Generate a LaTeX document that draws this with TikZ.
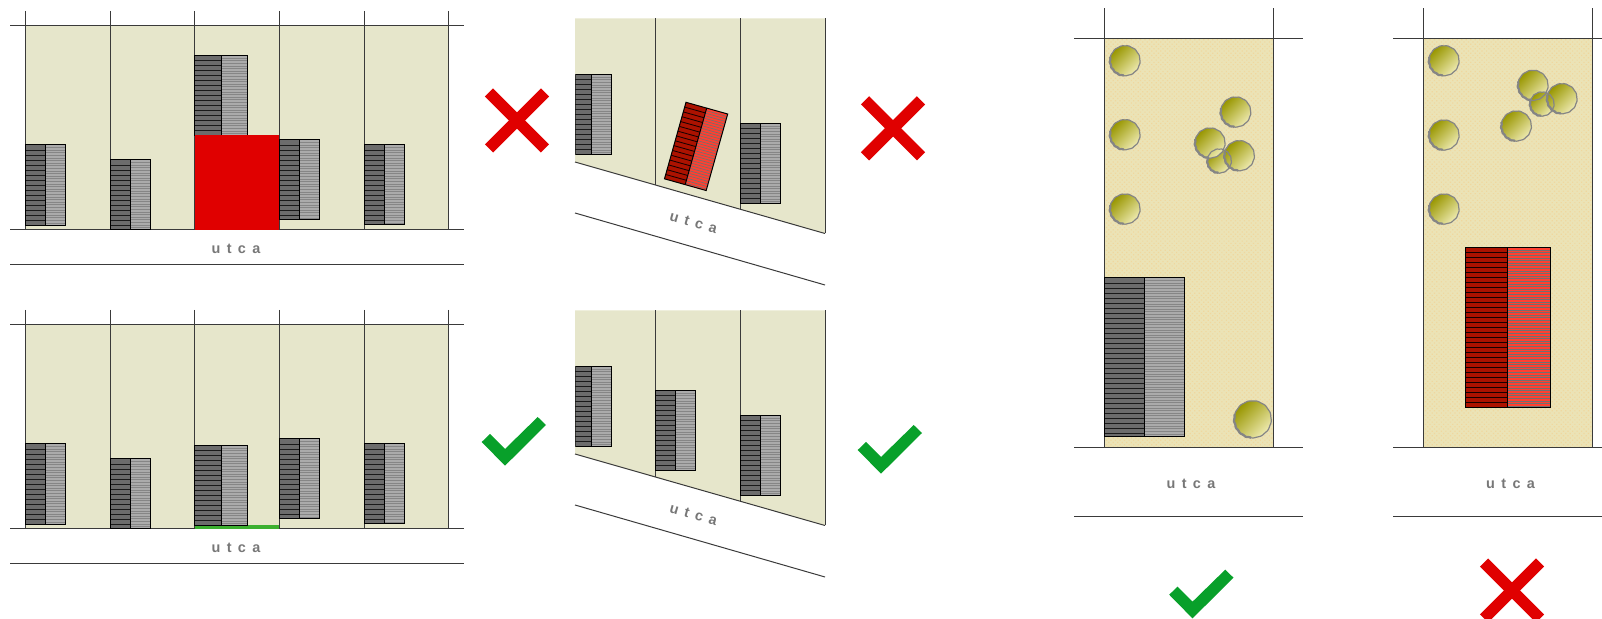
\documentclass[tikz,border=0pt]{standalone}
\usepackage{xcolor}
\usepackage{fontspec}
\usetikzlibrary{patterns.meta}
\newfontfamily\streetfont[WordSpace=1.6]{Liberation Sans}
\definecolor{LotFill}{HTML}{E6E6CB}
\definecolor{SandFill}{HTML}{EBE3B6}
\definecolor{SandDot}{HTML}{F0D79E}
\definecolor{PlotLine}{HTML}{3A3A3A}
\definecolor{StreetText}{HTML}{777777}
\definecolor{BadRed}{HTML}{E00000}
\definecolor{GoodGreen}{HTML}{08A02A}
\definecolor{StripGreen}{HTML}{3CB030}
\definecolor{GreyDark}{HTML}{6C6C6C}
\definecolor{GreyDarkLine}{HTML}{1A1A1A}
\definecolor{GreyLight}{HTML}{ABABAB}
\definecolor{GreyLightLine}{HTML}{868686}
\definecolor{RedDark}{HTML}{AC1200}
\definecolor{RedDarkLine}{HTML}{180000}
\definecolor{RedLight}{HTML}{FF4030}
\definecolor{RedLightLine}{HTML}{707070}
\definecolor{TreeDark}{HTML}{989600}
\definecolor{TreePale}{HTML}{EEEAB0}
\definecolor{TreeRim}{HTML}{858585}
% x y, dark width, light width, height, angle, colour set
\newcommand{\housebar}[7]{
    \begin{scope}[shift={(#1,#2)}, rotate=#6]
        \fill[#7Dark] (0,0) rectangle (#3,#5);
        \fill[#7Light] (#3,0) rectangle (#3+#4,#5);
        \pgfmathsetmacro{\stripend}{#5-1}
        \foreach \yy in {5,10,...,\stripend}
            \draw[#7DarkLine, line width=0.42pt] (0,\yy) -- (#3,\yy);
        \foreach \yy in {2.6,5.2,...,\stripend}
            \draw[#7LightLine, line width=0.32pt] (#3,\yy) -- (#3+#4,\yy);
        \draw[housepen] (0,0) rectangle (#3+#4,#5);
        \draw[housepen] (#3,0) -- (#3,#5);
    \end{scope}
}
% x y radius
\newcommand{\treetop}[3]{
    \shade[top color=TreeDark, bottom color=TreePale, shading angle=45]
        (#1,#2) circle (#3);
}
\newcommand{\treerim}[3]{
    \draw[treepen, line width=0.6pt] plot[domain=0:360, samples=73, smooth]
        ({#1+(#3+0.2*sin(13*\x))*cos(\x)},{#2+(#3+0.2*sin(13*\x))*sin(\x)});
    \draw[treepen, line width=1.1pt] plot[domain=95:195, samples=25, smooth]
        ({#1+(#3+0.35*sin(17*\x))*cos(\x)},{#2+(#3+0.35*sin(17*\x))*sin(\x)});
}
\newcommand{\badmark}[2]{
    \draw[BadRed, line width=5.8pt] (#1-28,#2-28) -- (#1+28,#2+28);
    \draw[BadRed, line width=5.8pt] (#1-28,#2+28) -- (#1+28,#2-28);
}
\newcommand{\goodmark}[2]{
    \fill[GoodGreen] (#1-32.3,#2+1) -- (#1-24,#2-7) -- (#1-9,#2+8)
        -- (#1+23.7,#2-24) -- (#1+32,#2-16) -- (#1-9,#2+24.7) -- cycle;
}
% y shift, street node name
\newcommand{\lotrow}[2]{
    \begin{scope}[shift={(0,#1)}]
        \fill[LotFill] (25,26) rectangle (449,230);
        \draw[plotline] (10,26) -- (464,26);
        \draw[plotline] (10,230) -- (464,230);
        \draw[plotline] (10,265) -- (464,265);
        \foreach \xx in {25.3,110,194.7,279.3,364,448.7}
            \draw[plotline] (\xx,11) -- (\xx,230);
        \node[streettext] (#2) at (236,248.5) {u t c a};
        \housebar{25.3}{145}{20.3}{20}{80.5}{0}{Grey}
        \housebar{110}{160}{20.3}{20}{70}{0}{Grey}
        \housebar{279.3}{140}{20.3}{20}{80}{0}{Grey}
        \housebar{364}{145}{20.3}{20}{80}{0}{Grey}
    \end{scope}
}
% y shift, street node name
\newcommand{\slantrow}[2]{
    \begin{scope}[shift={(0,#1)}]
        \fill[LotFill] (575,18.5) -- (825,18.5) -- (825,233.5) -- (575,162) -- cycle;
        \draw[plotline] (575,162) -- (825,233.5);
        \draw[plotline] (575,213) -- (825,285);
        \draw[plotline] (655.5,18.5) -- (655.5,185);
        \draw[plotline] (740.5,18.5) -- (740.5,209);
        \draw[plotline] (825,18.5) -- (825,233.5);
        \node[streettext, rotate=-16] (#2) at (693.5,223) {u t c a};
        \begin{scope}
            \clip (575.4,0) rectangle (640,200);
            \housebar{575}{74.5}{16}{20}{80.5}{0}{Grey}
        \end{scope}
        \housebar{740.5}{123.5}{20}{20.3}{80}{0}{Grey}
    \end{scope}
}
% left x, right x, left end, right end of the lines
\newcommand{\deeplot}[4]{
    \fill[SandFill] (#1,38.5) rectangle (#2,447.5);
    \fill[pattern={Dots[radius=0.42pt,distance=1.6pt,angle=45]}, pattern color=SandDot]
        (#1,38.5) rectangle (#2,447.5);
    \draw[plotline] (#3,38.5) -- (#4,38.5);
    \draw[plotline] (#3,447.5) -- (#4,447.5);
    \draw[plotline] (#3,517) -- (#4,517);
    \draw[plotline] (#1,8.5) -- (#1,447.5);
    \draw[plotline] (#2,8.5) -- (#2,447.5);
}

\begin{document}
\begin{tikzpicture}[
    x=0.5pt, y=-0.5pt,
    plotline/.style={draw=PlotLine, line width=0.5pt},
    housepen/.style={draw=black, line width=0.5pt},
    treepen/.style={draw=TreeRim, line join=round},
    streettext/.style={text=StreetText, font=\streetfont\bfseries\fontsize{7.2}{8}\selectfont, inner sep=0pt}
]
    \useasboundingbox (0,0) rectangle (1602,619);

    % street front rows
    \lotrow{0}{streetA}
    \housebar{194.7}{55.5}{26.3}{26.5}{80}{0}{Grey}
    \fill[BadRed] (194.7,135) rectangle (279.3,230);
    \lotrow{299}{streetC}
    \fill[StripGreen] (194.7,525) rectangle (279.3,529);
    \housebar{194.7}{445.5}{26.3}{26.5}{80.5}{0}{Grey}
    \badmark{517}{120.5}
    \goodmark{514}{441}

    % slanted street rows
    \slantrow{0}{streetB}
    \housebar{686}{102.3}{21.5}{21.8}{79.5}{-15.7}{Red}
    \slantrow{292}{streetD}
    \housebar{655.5}{390.5}{20}{20.3}{80.5}{0}{Grey}
    \badmark{893}{128.3}
    \goodmark{890}{449}

    % deep plots
    \deeplot{1104}{1273}{1074}{1303}
    \node[streettext] (streetE) at (1191,483.5) {u t c a};
    \housebar{1104}{278}{40}{40.3}{159}{0}{Grey}
    \foreach \tx/\ty/\tr in {1125/60.7/15, 1125/134.7/15, 1125/209/15,
        1235.7/112/15, 1219.3/161/12, 1210/143/15, 1239.3/155.7/15, 1252.7/419.3/18.5}
        {\treetop{\tx}{\ty}{\tr}}
    \foreach \tx/\ty/\tr in {1125/60.7/15, 1125/134.7/15, 1125/209/15,
        1235.7/112/15, 1219.3/161/12, 1210/143/15, 1239.3/155.7/15, 1252.7/419.3/18.5}
        {\treerim{\tx}{\ty}{\tr}}
    \goodmark{1201.5}{593.7}

    \deeplot{1423.5}{1592.5}{1393}{1602}
    \node[streettext] (streetF) at (1510.5,483.5) {u t c a};
    \housebar{1465}{247.5}{42.7}{42.3}{160}{0}{Red}
    \foreach \tx/\ty/\tr in {1444/60.7/15, 1444/135/15, 1444/209/15,
        1533/85.3/15, 1542/104/12, 1562/98.7/15, 1516.3/126/15}
        {\treetop{\tx}{\ty}{\tr}}
    \foreach \tx/\ty/\tr in {1444/60.7/15, 1444/135/15, 1444/209/15,
        1533/85.3/15, 1542/104/12, 1562/98.7/15, 1516.3/126/15}
        {\treerim{\tx}{\ty}{\tr}}
    \badmark{1512}{590.5}
\end{tikzpicture}
\end{document}
